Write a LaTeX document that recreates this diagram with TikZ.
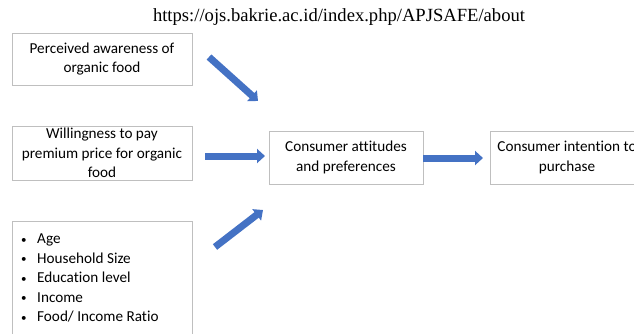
\documentclass[tikz,border=0pt]{standalone}
\usepackage{fontspec}
\setmainfont{Carlito}[Ligatures=NoCommon]
\newfontfamily\urlfont{Liberation Serif}
\usetikzlibrary{arrows.meta}
\definecolor{boxline}{HTML}{BFBFBF}
\definecolor{arrowblue}{HTML}{4472C4}
\definecolor{arrowdark}{HTML}{2F528F}
\newcommand{\bul}{\makebox[16pt][l]{\raisebox{0.5pt}{\fontsize{11}{11}\selectfont •}}}
\begin{document}
\begin{tikzpicture}[x=1pt,y=-1pt,
  box/.style={draw=boxline, line width=0.9pt, fill=white, align=center, inner sep=0pt,
    font=\fontsize{15.2}{19.5}\selectfont},
  blockarrow/.style={draw=arrowblue, line width=7pt,
    -{Triangle[width=14pt,length=8pt,fill=arrowblue]}}
]
\useasboundingbox (0,0) rectangle (634,333);
\clip (0,0) rectangle (634,333);
\node[font=\urlfont\fontsize{18.6}{20}\selectfont] (url) at (339,17) {https://ojs.bakrie.ac.id/index.php/APJSAFE/about};
\node[box, minimum width=180pt, minimum height=52pt] (p1) at (102,59) {Perceived awareness of\\organic food};
\node[box, minimum width=180pt, minimum height=54pt] (p2) at (102,153) {Willingness to pay\\premium price for organic\\food};
\node[box, minimum width=154pt, minimum height=53pt] (att) at (346,157.5) {Consumer attitudes\\and preferences};
\node[box, minimum width=154pt, minimum height=53pt] (int) at (567,157.5) {Consumer intention to\\purchase};
\node[box, minimum width=180pt, minimum height=124pt, anchor=north west] (demo) at (12,221) {};
\node[anchor=north west, align=left, inner sep=0pt, font=\fontsize{15.2}{19.5}\selectfont] (demotext) at (21,234)
  {\bul Age\\\bul Household Size\\\bul Education level\\\bul Income\\\bul Food/ Income Ratio};
\coordinate (a1s) at (209,57);
\coordinate (a1e) at (258,101);
\coordinate (a2s) at (205,156);
\coordinate (a2e) at (265,156);
\coordinate (a3s) at (215,247);
\coordinate (a3e) at (263,210);
\coordinate (a4s) at (423,158);
\coordinate (a4e) at (483,158);
\draw[blockarrow] (a1s) -- (a1e);
\draw[blockarrow] (a2s) -- (a2e);
\draw[blockarrow] (a3s) -- (a3e);
\draw[blockarrow] (a4s) -- (a4e);
\end{tikzpicture}
\end{document}
